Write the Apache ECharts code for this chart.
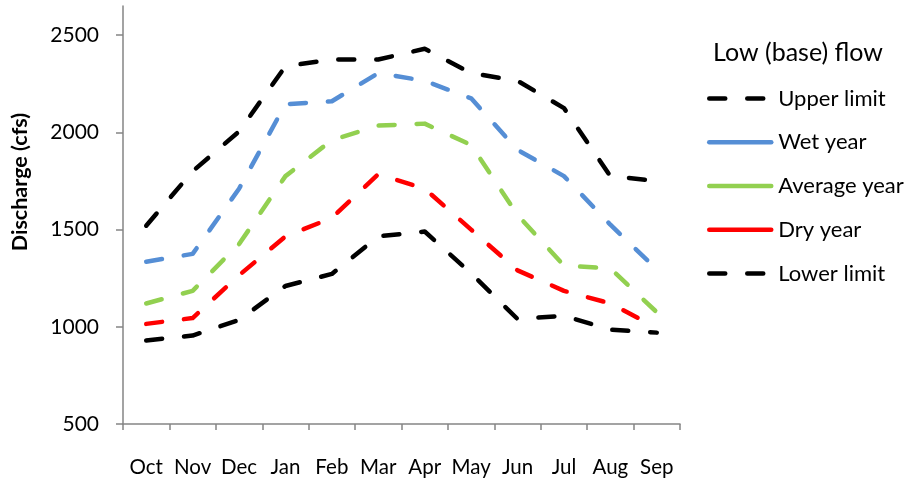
<!DOCTYPE html>
<html>
<head>
<meta charset="utf-8">
<script src="https://cdn.jsdelivr.net/npm/echarts@6/dist/echarts.min.js"></script>
<style>
html,body{margin:0;padding:0;background:#fff;}
#chart{width:908px;height:480px;}
</style>
</head>
<body>
<div id="chart"></div>
<script>
var months = ['Oct','Nov','Dec','Jan','Feb','Mar','Apr','May','Jun','Jul','Aug','Sep'];
var upperLimit = [1520, 1800, 2005, 2340, 2375, 2375, 2430, 2305, 2265, 2125, 1775, 1750];
var wetYear    = [1335, 1375, 1710, 2145, 2160, 2305, 2265, 2175, 1910, 1775, 1525, 1295];
var avgYear    = [1120, 1185, 1425, 1775, 1960, 2035, 2045, 1935, 1575, 1315, 1300, 1075];
var dryYear    = [1015, 1045, 1265, 1465, 1560, 1785, 1710, 1500, 1290, 1185, 1120, 995];
var lowerLimit = [930, 955, 1035, 1210, 1272, 1465, 1490, 1275, 1040, 1057, 985, 970];
var yTicks = [500, 1000, 1500, 2000, 2500];
var legendTitle = 'Low (base) flow';
var yTitle = 'Discharge (cfs)';

var FONT = 'Lato';
var dash = [16, 22];
function mk(name, data, color) {
  return {
    name: name, type: 'line', data: data, symbol: 'none', showSymbol: false,
    smooth: false, animation: false,
    lineStyle: { color: color, width: 4.5, type: dash, cap: 'round', join: 'round' },
    itemStyle: { color: color }
  };
}
var chart = echarts.init(document.getElementById('chart'));
chart.setOption({
  backgroundColor: '#fff',
  animation: false,
  title: {
    text: legendTitle, left: 713, top: 40, padding: 0,
    textStyle: { fontFamily: FONT, fontSize: 25, fontWeight: 'normal', color: '#000' }
  },
  legend: {
    orient: 'vertical', left: 707, top: 87.5, padding: 0,
    itemWidth: 62, itemHeight: 22, itemGap: 21.75,
    itemStyle: { opacity: 0 },
    lineStyle: { width: 4.5, cap: 'round' },
    textStyle: { fontFamily: FONT, fontSize: 22, color: '#000', padding: [0,0,0,2] },
    data: [
      { name: 'Upper limit' },
      { name: 'Wet year', lineStyle: { type: 'solid' } },
      { name: 'Average year', lineStyle: { type: 'solid' } },
      { name: 'Dry year', lineStyle: { type: 'solid' } },
      { name: 'Lower limit' }
    ]
  },
  grid: { left: 123, right: 228, top: 6, bottom: 56, containLabel: false },
  xAxis: {
    type: 'category', data: months, boundaryGap: true,
    axisLine: { lineStyle: { color: '#858585', width: 1.5 } },
    axisTick: { show: true, length: 6, lineStyle: { color: '#858585', width: 1.5 } },
    axisLabel: { margin: 33, fontFamily: FONT, fontSize: 20.5, color: '#000', interval: 0 },
    splitLine: { show: false }
  },
  yAxis: {
    type: 'value', min: 500, max: 2650,
    axisLine: { show: true, lineStyle: { color: '#858585', width: 1.5 } },
    axisTick: { show: true, length: 7, customValues: yTicks, lineStyle: { color: '#858585', width: 1.5 } },
    axisLabel: { margin: 24, fontFamily: FONT, fontSize: 21, color: '#000', customValues: yTicks,
      formatter: function (v) { return String(v); } },
    splitLine: { show: false }
  },
  graphic: [{
    type: 'text', x: 20, y: 182, rotation: Math.PI / 2,
    style: { text: yTitle, align: 'center', verticalAlign: 'middle',
      font: 'bold 21.5px Lato', fill: '#000' }
  }],
  series: [
    mk('Upper limit', upperLimit, '#000000'),
    mk('Wet year', wetYear, '#558ED5'),
    mk('Average year', avgYear, '#92D050'),
    mk('Dry year', dryYear, '#FF0000'),
    mk('Lower limit', lowerLimit, '#000000')
  ]
});
</script>
</body>
</html>
